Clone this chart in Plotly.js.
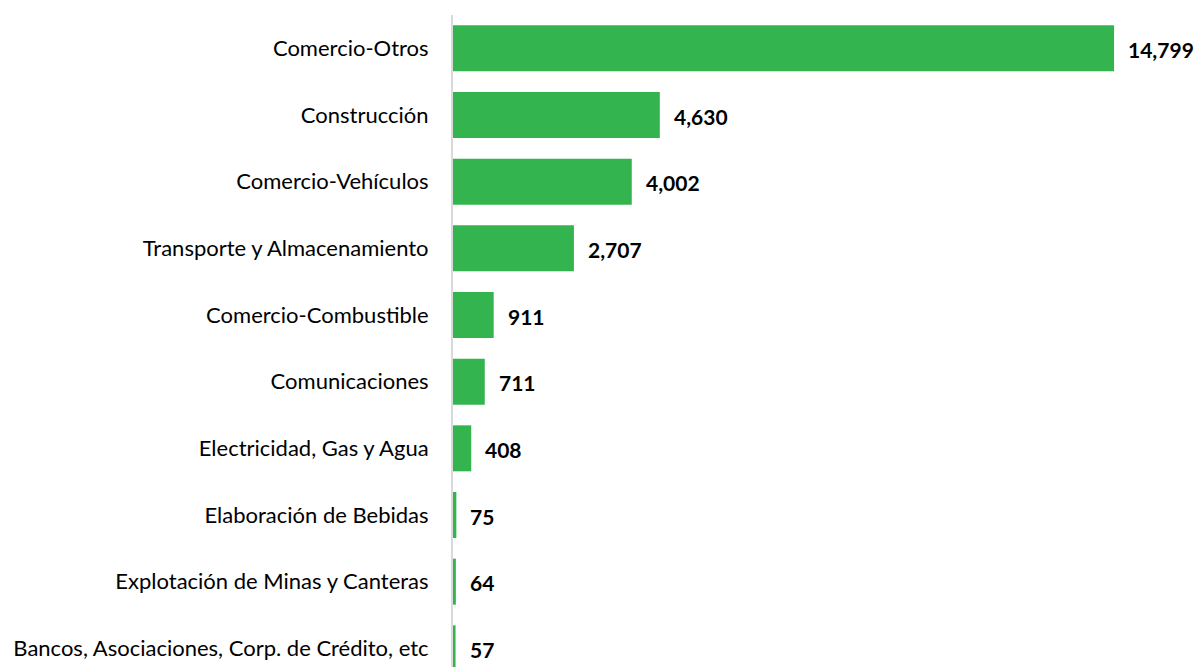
<!DOCTYPE html>
<html><head><meta charset="utf-8">
<script src="https://cdn.plot.ly/plotly-3.0.1.min.js"></script>
<style>html,body{margin:0;padding:0;overflow:hidden;background:#fff}</style>
</head><body><div id="chart" style="width:1195px;height:667px"></div>
<script>
const categories = [
  "Comercio-Otros",
  "Construcción",
  "Comercio-Vehículos",
  "Transporte y Almacenamiento",
  "Comercio-Combustible",
  "Comunicaciones",
  "Electricidad, Gas y Agua",
  "Elaboración de Bebidas",
  "Explotación de Minas y Canteras",
  "Bancos, Asociaciones, Corp. de Crédito, etc"
];
const values = [14799, 4630, 4002, 2707, 911, 711, 408, 75, 64, 57];
const valueLabels = values.map(v => v.toLocaleString('en-US'));

const trace = {
  type: 'bar', orientation: 'h',
  x: values, y: categories,
  marker: {color: '#34B44E'},
  width: 0.69,
  hoverinfo: 'none'
};
const annotations = values.map((v, i) => ({
  x: v, y: categories[i], xref: 'x', yref: 'y',
  text: '<b>' + valueLabels[i] + '</b>', showarrow: false,
  xanchor: 'left', xshift: 12, yshift: -1,
  font: {family: 'Lato, Carlito, sans-serif', size: 21, color: '#000'}
}));
const layout = {
  width: 1195, height: 667,
  margin: {l: 453, r: 0, t: 15, b: 0},
  paper_bgcolor: '#fff', plot_bgcolor: '#fff',
  showlegend: false,
  xaxis: {range: [0, 16611], visible: false, fixedrange: true},
  yaxis: {
    type: 'category', range: [9.28, -0.5],
    showline: true, linecolor: '#d9d9d9', linewidth: 2,
    ticks: '', ticklabelstandoff: 18, showgrid: false, zeroline: false,
    tickfont: {family: 'Lato, Carlito, sans-serif', size: 22, color: '#000'}
  },
  annotations: annotations
};
Plotly.newPlot('chart', [trace], layout, {displayModeBar: false, staticPlot: true});
</script></body></html>
